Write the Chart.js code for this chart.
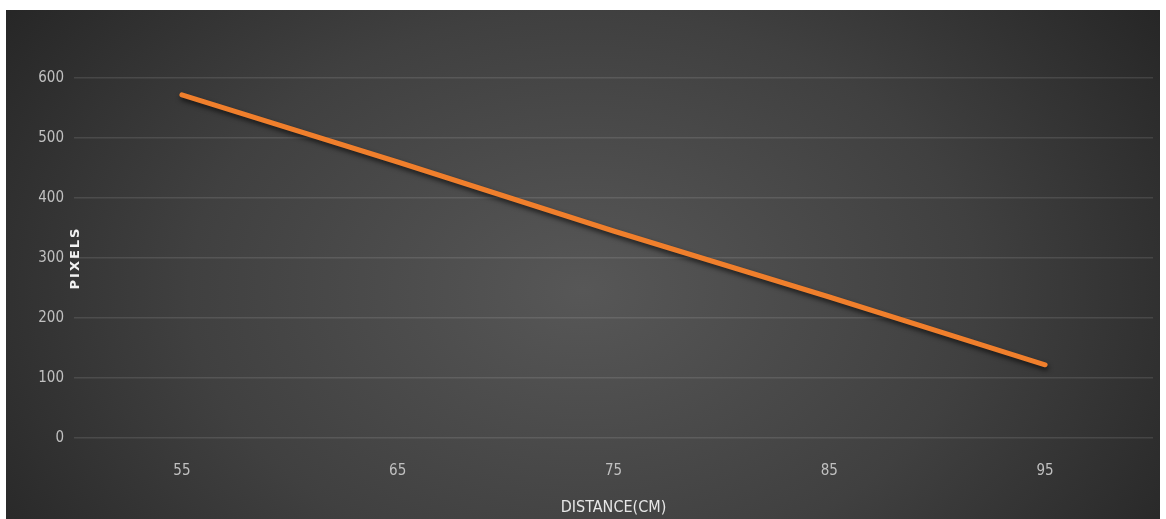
<!DOCTYPE html>
<html>
<head>
<meta charset="utf-8">
<script src="https://cdn.jsdelivr.net/npm/chart.js@4/dist/chart.umd.min.js"></script>
<style>
  html, body { margin: 0; padding: 0; background: #ffffff; }
  #wrap { position: absolute; left: 6px; top: 10px; width: 1154px; height: 509px; }
</style>
</head>
<body>
<div id="wrap"><canvas id="chart" width="1154" height="509"></canvas></div>
<script>
// Measured distance (cm) against object size in pixels
const distances = ['55', '65', '75', '85', '95'];
const pixelValues = [572, 460, 345, 235, 122];
const yTicks = [0, 100, 200, 300, 400, 500, 600];

const FONT = "'Liberation Sans Narrow', 'DejaVu Sans Condensed', 'Arial Narrow', sans-serif";

// Dark radial backdrop, lighter towards the middle
const backdrop = {
  id: 'backdrop',
  beforeDraw(chart) {
    const { ctx, width, height } = chart;
    ctx.save();
    const cx = width * 0.5, cy = height * 0.55;
    ctx.translate(cx, cy);
    ctx.scale(1, height / width * 1.6);
    const r = width * 0.62;
    const g = ctx.createRadialGradient(0, 0, 0, 0, 0, r);
    g.addColorStop(0, '#575757');
    g.addColorStop(0.55, '#404040');
    g.addColorStop(1, '#252525');
    ctx.fillStyle = g;
    ctx.fillRect(-width, -height * 3, width * 2, height * 6);
    ctx.restore();
  }
};

// Soft drop shadow under the data line
const lineShadow = {
  id: 'lineShadow',
  beforeDatasetDraw(chart) {
    const ctx = chart.ctx;
    ctx.save();
    ctx.shadowColor = 'rgba(0,0,0,0.65)';
    ctx.shadowBlur = 5;
    ctx.shadowOffsetX = 1;
    ctx.shadowOffsetY = 3;
  },
  afterDatasetDraw(chart) {
    chart.ctx.restore();
  }
};

// Vertical axis caption sitting just inside the plot edge
const yCaption = {
  id: 'yCaption',
  afterDraw(chart) {
    const { ctx, chartArea } = chart;
    ctx.save();
    ctx.translate(chartArea.left + 2, (chartArea.top + chartArea.bottom) / 2);
    ctx.rotate(-Math.PI / 2);
    ctx.fillStyle = '#f2f2f2';
    ctx.font = "bold 13px 'DejaVu Sans', sans-serif";
    ctx.textAlign = 'center';
    ctx.textBaseline = 'middle';
    if ('letterSpacing' in ctx) ctx.letterSpacing = '2px';
    ctx.fillText('PIXELS', 0, 0);
    ctx.restore();
  }
};

new Chart(document.getElementById('chart'), {
  type: 'line',
  data: {
    labels: distances,
    datasets: [{
      data: pixelValues,
      borderColor: '#f07f2c',
      borderWidth: 5,
      borderCapStyle: 'round',
      pointRadius: 0,
      pointHoverRadius: 0,
      tension: 0,
      fill: false
    }]
  },
  options: {
    responsive: false,
    animation: false,
    events: [],
    layout: { padding: { top: 68, right: 7, left: 0, bottom: 0 } },
    plugins: { legend: { display: false }, tooltip: { enabled: false } },
    scales: {
      x: {
        offset: true,
        grid: { display: false, drawTicks: false },
        border: { display: false },
        ticks: { color: '#c0c0c0', padding: 24, font: { family: FONT, size: 15 } },
        title: {
          display: true,
          text: 'DISTANCE(CM)',
          color: '#e6e6e6',
          font: { family: FONT, size: 16 },
          padding: { top: 0, bottom: 2 }
        },
        afterFit(scale) { scale.height = 81; }
      },
      y: {
        min: 0,
        max: 600,
        afterBuildTicks(scale) { scale.ticks = yTicks.map(v => ({ value: v })); },
        grid: { color: 'rgba(255,255,255,0.11)', lineWidth: 1.5, drawTicks: false },
        border: { display: false },
        ticks: { color: '#c0c0c0', padding: 10, font: { family: FONT, size: 15 } },
        afterFit(scale) { scale.width = 68; }
      }
    }
  },
  plugins: [backdrop, lineShadow, yCaption]
});
</script>
</body>
</html>
